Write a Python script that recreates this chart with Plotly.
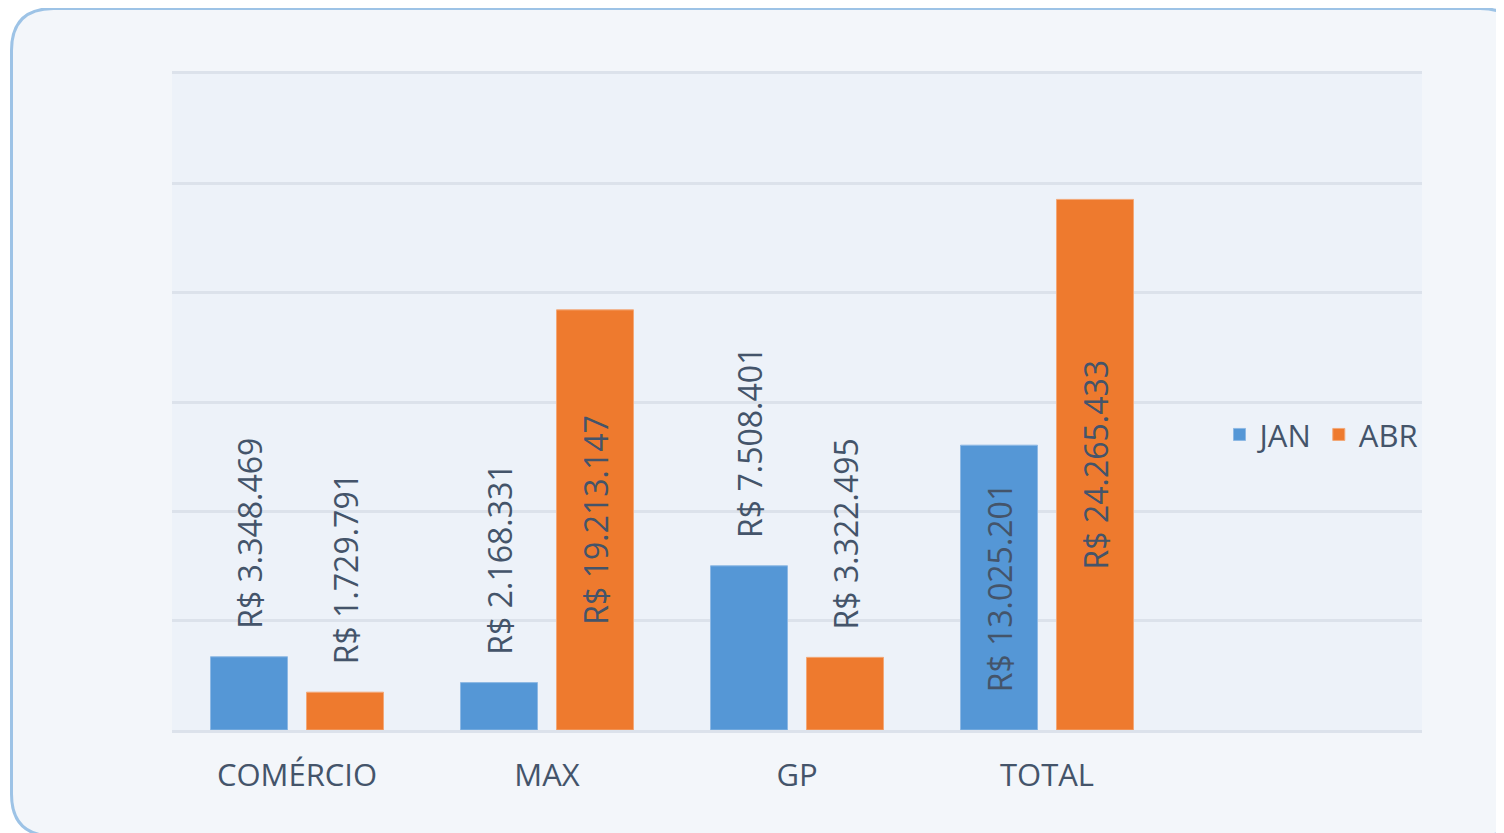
"""Faturamento JAN x ABR por unidade."""

import plotly.graph_objects as go

categories = ["COMÉRCIO", "MAX", "GP", "TOTAL"]
jan_values = [3348469, 2168331, 7508401, 13025201]
abr_values = [1729791, 19213147, 3322495, 24265433]

# empty fifth slot on the x axis holds the legend, as in the original
x_slots = categories + [" "]

TEXT = "#44546A"
FONT = "Open Sans"
GRID = "#DCE2EB"

# the page body adds an 8px margin, so the figure is 8px smaller
OFF = 8
W, H = 1504 - OFF, 833 - OFF
L, T = 172 - OFF, 74 - OFF
R, B = W - (1422 - OFF), H - (730 - OFF)


def brl(v):
    return "R$ " + f"{v:,}".replace(",", ".")


def label_pos(values, limit=10_000_000):
    return ["inside" if v > limit else "outside" for v in values]


def label_text(values, limit=10_000_000):
    # a little air between short bars and their labels
    return [brl(v) if v > limit else "\u00a0\u00a0\u00a0" + brl(v) for v in values]


fig = go.Figure()
for name, vals, fill, edge in [
    ("JAN", jan_values, "#5597D6", "#8DB8E4"),
    ("ABR", abr_values, "#EE7A2E", "#F3A877"),
]:
    fig.add_trace(go.Bar(
        x=categories, y=vals, name=name,
        marker=dict(color=fill, line=dict(color=edge, width=1)),
        text=label_text(vals),
        textposition=label_pos(vals),
        textangle=-90,
        insidetextanchor="middle",
        constraintext="none",
        textfont=dict(family=FONT, size=32, color=TEXT),
        insidetextfont=dict(family=FONT, size=32, color=TEXT),
        outsidetextfont=dict(family=FONT, size=32, color=TEXT),
        cliponaxis=False,
    ))


# screen pixel -> paper units
def px(x, y):
    return (x - OFF - L) / (W - L - R), (H - B - (y - OFF)) / (H - T - B)


def frame_path(x0, y0, x1, y1, r):
    pts = [
        ("M", x0 + r, y0), ("L", x1 - r, y0), ("Q", x1, y0, x1, y0 + r),
        ("L", x1, y1 - r), ("Q", x1, y1, x1 - r, y1),
        ("L", x0 + r, y1), ("Q", x0, y1, x0, y1 - r),
        ("L", x0, y0 + r), ("Q", x0, y0, x0 + r, y0),
    ]
    out = []
    for p in pts:
        cmd, coords = p[0], p[1:]
        xy = []
        for i in range(0, len(coords), 2):
            a, b = px(coords[i], coords[i + 1])
            xy.append(f"{a:.5f},{b:.5f}")
        out.append(cmd + " ".join(xy))
    return " ".join(out) + " Z"


# rounded frame around the whole chart
fig.add_shape(
    type="path", xref="paper", yref="paper", layer="below",
    path=frame_path(11.5, 8.5, 1522, 836, 42),
    fillcolor="#F3F6FA", line=dict(color="#9DC3E6", width=3),
)
# plot area tint (the frame would otherwise hide plot_bgcolor)
fig.add_shape(
    type="rect", xref="paper", yref="paper", layer="below",
    x0=0, x1=1, y0=0, y1=1,
    fillcolor="#EDF2F9", line=dict(width=0),
)

fig.update_layout(
    width=W, height=H,
    margin=dict(l=L, r=R, t=T, b=B, pad=0),
    paper_bgcolor="white",
    plot_bgcolor="#EDF2F9",
    barmode="group",
    bargap=0.232,
    bargroupgap=0.198,
    font=dict(family=FONT, size=31, color=TEXT),
    showlegend=True,
    legend=dict(
        orientation="h", x=0.838, y=0.45, xanchor="left", yanchor="middle",
        bgcolor="rgba(0,0,0,0)", font=dict(family=FONT, size=31, color=TEXT),
        itemwidth=30,
    ),
    xaxis=dict(
        type="category", categoryorder="array", categoryarray=x_slots,
        range=[-0.5, len(x_slots) - 0.5],
        showgrid=False, ticks="", zeroline=False,
        showline=True, mirror=True, linecolor=GRID, linewidth=3,
        tickfont=dict(family=FONT, size=31, color=TEXT),
        ticklabelstandoff=16,
    ),
    yaxis=dict(
        range=[0, 30_000_000], dtick=5_000_000,
        showticklabels=False, ticks="",
        gridcolor=GRID, gridwidth=3,
        zeroline=False, showline=False,
    ),
)

fig.write_html("out.html")
